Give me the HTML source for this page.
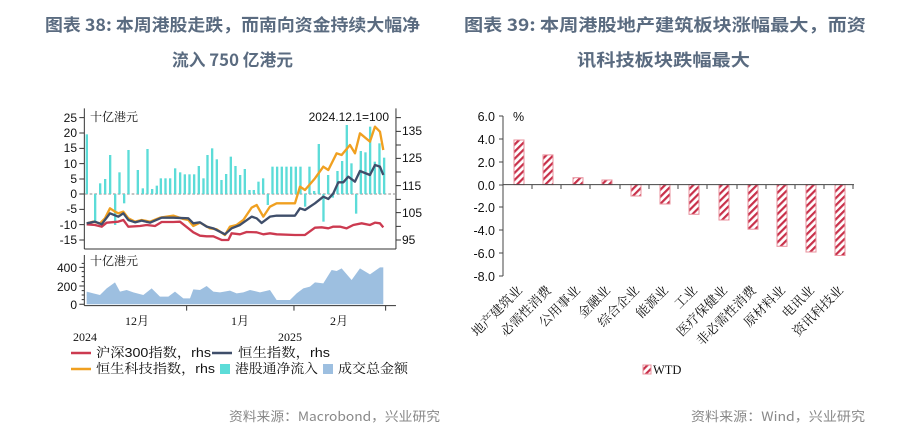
<!DOCTYPE html>
<html><head><meta charset="utf-8"><style>
html,body{margin:0;padding:0;background:#fff;width:911px;height:434px;overflow:hidden}
svg text{font-family:"Liberation Sans","Noto Serif CJK SC","Noto Sans CJK SC",sans-serif}
</style></head><body>
<svg width="911" height="434" viewBox="0 0 911 434" xmlns="http://www.w3.org/2000/svg">
<defs>
<pattern id="h" width="5" height="5" patternUnits="userSpaceOnUse" patternTransform="rotate(45)">
<rect width="5" height="5" fill="#fff"/><rect width="2.2" height="5" fill="#c8304a"/></pattern>
</defs>
<g font-weight="bold" font-size="17" fill="#5a6b80">
<text x="45" y="31" textLength="375" lengthAdjust="spacingAndGlyphs" style="font-family:'Noto Sans CJK SC',sans-serif">图表 38: 本周港股走跌，而南向资金持续大幅净</text>
<text x="172" y="66" textLength="121" lengthAdjust="spacingAndGlyphs" style="font-family:'Noto Sans CJK SC',sans-serif">流入 750 亿港元</text>
<text x="464" y="31" textLength="402" lengthAdjust="spacingAndGlyphs" style="font-family:'Noto Sans CJK SC',sans-serif">图表 39: 本周港股地产建筑板块涨幅最大，而资</text>
<text x="577" y="66" textLength="173" lengthAdjust="spacingAndGlyphs" style="font-family:'Noto Sans CJK SC',sans-serif">讯科技板块跌幅最大</text>
</g>
<g font-size="13" fill="#888">
<text x="229" y="421" textLength="211" lengthAdjust="spacingAndGlyphs" style="font-family:'Noto Sans CJK SC',sans-serif">资料来源：Macrobond，兴业研究</text>
<text x="691" y="421" textLength="174" lengthAdjust="spacingAndGlyphs" style="font-family:'Noto Sans CJK SC',sans-serif">资料来源：Wind，兴业研究</text>
</g>
<!-- left chart -->
<g transform="translate(40,95) scale(0.3333)">
<line x1="135" y1="297" x2="1065" y2="297" stroke="#888" stroke-width="3" stroke-dasharray="8,6"/>
<g fill="#5cdcd8">
<rect x="137" y="118" width="7" height="179"/><rect x="162" y="297" width="7" height="81"/>
<rect x="177" y="265" width="7" height="32"/><rect x="192" y="252" width="7" height="45"/>
<rect x="207" y="180" width="7" height="117"/><rect x="222" y="297" width="7" height="93"/>
<rect x="235" y="232" width="7" height="65"/><rect x="249" y="297" width="7" height="28"/>
<rect x="262" y="165" width="7" height="132"/><rect x="290" y="225" width="7" height="72"/>
<rect x="305" y="280" width="7" height="17"/><rect x="319" y="162" width="7" height="135"/>
<rect x="333" y="282" width="7" height="15"/><rect x="347" y="272" width="7" height="25"/>
<rect x="359" y="250" width="7" height="47"/><rect x="373" y="250" width="7" height="47"/>
<rect x="387" y="250" width="7" height="47"/><rect x="402" y="220" width="7" height="77"/>
<rect x="417" y="232" width="7" height="65"/><rect x="431" y="238" width="7" height="59"/>
<rect x="445" y="238" width="7" height="59"/><rect x="459" y="238" width="7" height="59"/>
<rect x="473" y="213" width="7" height="84"/><rect x="487" y="250" width="7" height="47"/>
<rect x="499" y="180" width="7" height="117"/><rect x="513" y="160" width="7" height="137"/>
<rect x="527" y="193" width="7" height="104"/><rect x="541" y="255" width="7" height="42"/>
<rect x="555" y="237" width="7" height="60"/><rect x="569" y="185" width="7" height="112"/>
<rect x="583" y="213" width="7" height="84"/><rect x="597" y="240" width="7" height="57"/>
<rect x="611" y="222" width="7" height="75"/><rect x="625" y="285" width="7" height="12"/>
<rect x="638" y="285" width="7" height="12"/><rect x="652" y="260" width="7" height="37"/>
<rect x="666" y="250" width="7" height="47"/><rect x="680" y="297" width="7" height="33"/>
<rect x="694" y="215" width="7" height="82"/><rect x="708" y="215" width="7" height="82"/>
<rect x="722" y="215" width="7" height="82"/><rect x="736" y="215" width="7" height="82"/>
<rect x="750" y="215" width="7" height="82"/><rect x="764" y="215" width="7" height="82"/>
<rect x="778" y="215" width="7" height="82"/><rect x="792" y="297" width="7" height="38"/>
<rect x="805" y="215" width="7" height="82"/><rect x="819" y="288" width="7" height="9"/>
<rect x="833" y="147" width="7" height="150"/><rect x="847" y="297" width="7" height="83"/>
<rect x="861" y="240" width="7" height="57"/><rect x="875" y="297" width="7" height="11"/>
<rect x="889" y="228" width="7" height="69"/><rect x="903" y="198" width="7" height="99"/>
<rect x="917" y="90" width="7" height="207"/><rect x="931" y="205" width="7" height="92"/>
<rect x="945" y="297" width="7" height="59"/><rect x="959" y="168" width="7" height="129"/>
<rect x="973" y="172" width="7" height="125"/><rect x="987" y="95" width="7" height="202"/>
<rect x="1001" y="200" width="7" height="97"/><rect x="1015" y="145" width="7" height="152"/>
<rect x="1029" y="188" width="7" height="109"/>
</g>
<polyline fill="none" stroke="#f0a020" stroke-width="7" stroke-linejoin="round" points="140,385 160,380 180,385 195,370 210,340 225,350 235,355 250,350 265,370 285,380 305,375 330,380 360,368 400,362 430,372 445,375 460,393 480,383 510,400 530,403 555,420 570,395 590,390 610,375 635,338 650,330 670,365 690,335 710,325 765,325 780,275 795,285 825,250 850,215 865,225 890,175 905,180 930,150 945,175 960,115 990,140 1005,95 1020,110 1030,165"/>
<polyline fill="none" stroke="#cc3a50" stroke-width="7" stroke-linejoin="round" points="140,388 165,390 185,395 200,383 235,380 250,375 265,395 300,393 320,390 345,393 365,381 400,381 420,380 445,400 460,412 480,422 500,424 520,424 545,435 565,435 575,415 600,418 620,411 650,412 670,418 690,415 710,418 765,420 795,420 825,398 845,397 865,400 880,395 900,395 920,400 940,390 965,385 990,390 1005,383 1020,385 1030,397"/>
<polyline fill="none" stroke="#3f4e6a" stroke-width="7" stroke-linejoin="round" points="140,385 165,380 185,388 210,355 235,365 250,355 265,375 285,382 305,377 330,383 365,368 400,368 445,370 460,385 480,382 500,395 520,400 555,418 575,400 600,390 635,365 650,370 665,384 690,365 710,362 765,362 780,340 795,345 825,325 850,305 865,312 880,295 895,262 910,262 925,245 945,260 960,228 990,240 1005,210 1020,215 1030,240"/>
<polygon fill="#9dbfe0" points="140,628 140,590 160,595 180,600 200,580 225,562 240,590 260,585 280,592 310,600 335,580 360,605 385,605 405,590 430,610 450,610 460,583 480,585 500,573 520,590 540,592 570,587 590,595 610,592 630,585 660,592 690,585 710,615 750,615 770,595 790,580 810,575 825,562 850,565 875,525 890,528 905,520 935,555 960,520 990,538 1020,517 1030,517 1030,628"/>
<g stroke="#333" stroke-width="3" fill="none">
<line x1="133" y1="40" x2="133" y2="462"/><line x1="1068" y1="40" x2="1068" y2="462"/>
<line x1="133" y1="462" x2="1068" y2="462"/>
<path d="M118,68h15M118,114h15M118,160h15M118,206h15M118,252h15M118,297h15M118,343h15M118,389h15M118,435h15"/>
<path d="M1068,68h15M1068,109h15M1068,150h15M1068,190h15M1068,231h15M1068,272h15M1068,313h15M1068,353h15M1068,394h15M1068,435h15"/>
<line x1="133" y1="480" x2="133" y2="632"/><line x1="133" y1="632" x2="1068" y2="632"/>
<path d="M118,517h15M118,573h15M118,628h15M125,505h8M125,530h8M125,545h8M125,560h8M125,587h8M125,600h8M125,614h8"/>
<path d="M440,632v15M762,632v15M1037,632v15"/>
</g>
</g>
<g font-size="12" fill="#111">
<g text-anchor="end"><text x="77" y="122">25</text><text x="77" y="137">20</text><text x="77" y="152">15</text><text x="77" y="168">10</text><text x="77" y="183">5</text><text x="77" y="198">0</text><text x="77" y="213">-5</text><text x="77" y="229">-10</text><text x="77" y="244">-15</text>
<text x="77" y="272">400</text><text x="77" y="291">200</text><text x="77" y="309">0</text></g>
<text x="402" y="135">135</text><text x="402" y="162">125</text><text x="402" y="190">115</text><text x="402" y="217">105</text><text x="402" y="244">95</text>
<text x="90" y="121" style="font-family:'Noto Serif CJK SC',serif">十亿港元</text>
<text x="90" y="265" style="font-family:'Noto Serif CJK SC',serif">十亿港元</text>
<text x="389" y="121" text-anchor="end">2024.12.1=100</text>
<text x="137" y="325" text-anchor="middle" style="font-family:'Liberation Serif','Noto Serif CJK SC',serif">12月</text>
<text x="240" y="325" text-anchor="middle" style="font-family:'Liberation Serif','Noto Serif CJK SC',serif">1月</text>
<text x="339" y="325" text-anchor="middle" style="font-family:'Liberation Serif','Noto Serif CJK SC',serif">2月</text>
<text x="73" y="341" style="font-family:'Liberation Serif',serif">2024</text>
<text x="278" y="341" style="font-family:'Liberation Serif',serif">2025</text>
<g style="font-family:'Liberation Sans','Noto Serif CJK SC',serif" font-size="13">
<line x1="71" y1="353" x2="91" y2="353" stroke="#cc3a50" stroke-width="2.5"/><text x="96" y="357" textLength="115" lengthAdjust="spacingAndGlyphs">沪深300指数，rhs</text>
<line x1="212" y1="353" x2="232" y2="353" stroke="#3f4e6a" stroke-width="2.5"/><text x="238" y="357" textLength="92" lengthAdjust="spacingAndGlyphs">恒生指数，rhs</text>
<line x1="71" y1="369" x2="91" y2="369" stroke="#f0a020" stroke-width="2.5"/><text x="96" y="373" textLength="119" lengthAdjust="spacingAndGlyphs">恒生科技指数，rhs</text>
<rect x="220" y="364" width="10" height="10" fill="#5cdcd8"/><text x="235" y="373" textLength="83" lengthAdjust="spacingAndGlyphs">港股通净流入</text>
<rect x="323" y="364" width="10" height="10" fill="#9dbfe0"/><text x="338" y="373" textLength="70" lengthAdjust="spacingAndGlyphs">成交总金额</text>
</g>
</g>
<!-- right chart -->
<g stroke="#444" stroke-width="1" fill="none">
<line x1="503" y1="116" x2="503" y2="276"/>
<path d="M499,116h4M499,139h4M499,162h4M499,185h4M499,207h4M499,230h4M499,253h4M499,276h4"/>
</g>
<g fill="url(#h)" stroke="#e8909c" stroke-width="1">
<rect x="514" y="140" width="10" height="44.6"/>
<rect x="543" y="154.9" width="10" height="29.7"/>
<rect x="573" y="177.7" width="10" height="6.9"/>
<rect x="602" y="180" width="10" height="4.6"/>
<rect x="631" y="184.6" width="10" height="11.4"/>
<rect x="660" y="184.6" width="10" height="19.4"/>
<rect x="689" y="184.6" width="10" height="29.7"/>
<rect x="719" y="184.6" width="10" height="35.4"/>
<rect x="748" y="184.6" width="10" height="44.6"/>
<rect x="777" y="184.6" width="10" height="61.7"/>
<rect x="806" y="184.6" width="10" height="67.4"/>
<rect x="835" y="184.6" width="10" height="70.9"/>
</g>
<g stroke="#444" stroke-width="1">
<line x1="503" y1="184.6" x2="854" y2="184.6"/>
<path d="M532,185v4M561,185v4M590,185v4M620,185v4M649,185v4M678,185v4M707,185v4M737,185v4M766,185v4M795,185v4M824,185v4M853,185v4"/>
</g>
<g font-size="12.5" fill="#111" text-anchor="end" style="font-family:'Liberation Serif',serif">
<text x="495" y="121">6.0</text><text x="495" y="144">4.0</text><text x="495" y="167">2.0</text><text x="495" y="190">0.0</text><text x="495" y="212">-2.0</text><text x="495" y="235">-4.0</text><text x="495" y="258">-6.0</text><text x="495" y="281">-8.0</text>
</g>
<text x="513" y="121" font-size="12.5" fill="#111">%</text>
<g font-size="13" fill="#111" text-anchor="end" style="font-family:'Noto Serif CJK SC',serif">
<text transform="translate(523,291) rotate(-45)">地产建筑业</text>
<text transform="translate(552,291) rotate(-45)">必需性消费</text>
<text transform="translate(581,291) rotate(-45)">公用事业</text>
<text transform="translate(611,291) rotate(-45)">金融业</text>
<text transform="translate(640,291) rotate(-45)">综合企业</text>
<text transform="translate(669,291) rotate(-45)">能源业</text>
<text transform="translate(698,291) rotate(-45)">工业</text>
<text transform="translate(728,291) rotate(-45)">医疗保健业</text>
<text transform="translate(757,291) rotate(-45)">非必需性消费</text>
<text transform="translate(786,291) rotate(-45)">原材料业</text>
<text transform="translate(815,291) rotate(-45)">电讯业</text>
<text transform="translate(844,291) rotate(-45)">资讯科技业</text>
</g>
<rect x="643" y="365" width="8" height="9" fill="url(#h)" stroke="#e8909c"/>
<text x="653" y="374" font-size="12.5" fill="#111" style="font-family:'Liberation Serif',serif">WTD</text>
</svg>
</body></html>
